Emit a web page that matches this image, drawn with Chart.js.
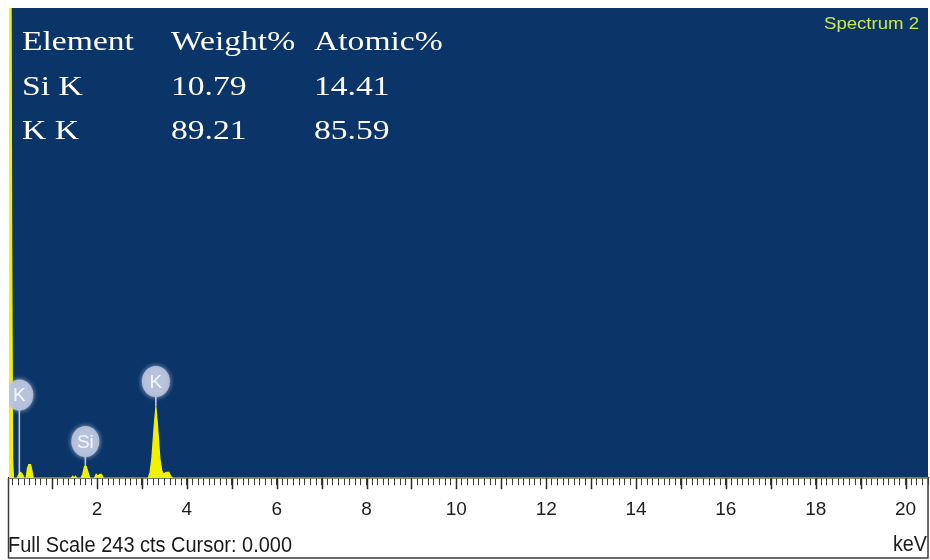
<!DOCTYPE html>
<html>
<head>
<meta charset="utf-8">
<script src="https://cdn.jsdelivr.net/npm/chart.js@4.4.1/dist/chart.umd.min.js"></script>
<style>
  html, body { margin: 0; padding: 0; background: #ffffff; }
  canvas { display: block; }
</style>
</head>
<body>
<canvas id="edx" width="930" height="560"></canvas>
<script>
// EDX spectrum: energy (keV) and counts
const keV = [0.04, 0.08, 0.10, 0.12, 0.14,
             0.22, 0.26, 0.30, 0.34, 0.38,
             0.42, 0.45, 0.48, 0.52, 0.55, 0.58,
             1.42, 1.46, 1.49, 1.52, 1.55,
             1.64, 1.68, 1.72, 1.76, 1.80, 1.84,
             1.94, 1.98, 2.02, 2.06, 2.10, 2.14,
             3.14, 3.18, 3.22, 3.27, 3.31, 3.35, 3.40, 3.44, 3.48, 3.54, 3.60, 3.64, 3.68,
             20.5];
const counts = [300, 300, 120, 10, 0,
                0, 2, 3, 2, 0,
                0, 5, 7, 7, 4, 0,
                0, 1, 0, 1, 0,
                0, 2, 6, 6, 3, 0,
                0, 2, 1, 2, 2, 0,
                0, 3, 10, 26, 37, 26, 10, 4, 2, 3, 3, 1, 0,
                0];
const fullScale = 243;

// energy axis
const keVTickLabels = [2, 4, 6, 8, 10, 12, 14, 16, 18, 20];
const keVMin = 0.04;
const keVMax = 20.5;

// identified lines
const lineNames = ['K', 'Si', 'K'];
const lineKeV = [0.27, 1.74, 3.31];

// quantification table
const tableHeader = ['Element', 'Weight%', 'Atomic%'];
const elementNames = ['Si K', 'K K'];
const weightPct = ['10.79', '89.21'];
const atomicPct = ['14.41', '85.59'];

const spectrumName = 'Spectrum 2';
const cursorValue = '0.000';

function drawStretched(ctx, text, x, y, font, sx, align) {
  ctx.save();
  ctx.font = font;
  ctx.textBaseline = 'alphabetic';
  ctx.textAlign = 'left';
  const w = ctx.measureText(text).width * sx;
  const x0 = align === 'right' ? x - w : x;
  ctx.translate(x0, y);
  ctx.scale(sx, 1);
  ctx.fillText(text, 0, 0);
  ctx.restore();
}

function drawFitted(ctx, text, x, y, font, width, align) {
  ctx.save();
  ctx.font = font;
  const sx = width / ctx.measureText(text).width;
  ctx.restore();
  drawStretched(ctx, text, x, y, font, sx, align);
}

const spectrumDecor = {
  id: 'spectrumDecor',
  beforeDraw(chart, args, opts) {
    const { ctx, chartArea: a } = chart;
    ctx.save();
    ctx.fillStyle = '#ffffff';
    ctx.fillRect(0, 0, chart.width, chart.height);
    ctx.fillStyle = opts.plotColor;
    ctx.fillRect(a.left, a.top, a.right - a.left, a.bottom - a.top);
    ctx.restore();
  },
  afterDatasetsDraw(chart, args, opts) {
    const { ctx, chartArea: a, scales: { x, y } } = chart;
    ctx.save();
    ctx.beginPath();
    ctx.rect(a.left, a.top, a.right - a.left, a.bottom - a.top);
    ctx.clip();
    lineNames.forEach((name, i) => {
      const e = lineKeV[i];
      // series height at this line energy
      let best = 0;
      keV.forEach((k, j) => { if (Math.abs(k - e) < Math.abs(keV[best] - e)) best = j; });
      const px = x.getPixelForValue(e);
      const peakY = y.getPixelForValue(counts[best]);
      const by = y.getPixelForValue(opts.bubbleAt[i]);
      const r = opts.bubbleRadius;
      // stem
      ctx.strokeStyle = 'rgba(220,226,240,0.85)';
      ctx.lineWidth = 1.6;
      ctx.beginPath();
      ctx.moveTo(px, by + r);
      ctx.lineTo(px, peakY);
      ctx.stroke();
      // bubble
      ctx.save();
      ctx.shadowColor = 'rgba(200,208,228,0.9)';
      ctx.shadowBlur = 5;
      ctx.fillStyle = 'rgba(185,196,222,0.9)';
      ctx.beginPath();
      ctx.ellipse(px, by, r, r + 1.5, 0, 0, Math.PI * 2);
      ctx.fill();
      ctx.restore();
      ctx.fillStyle = '#f6f7fb';
      ctx.font = '19px "Liberation Sans", Arial, sans-serif';
      ctx.textAlign = 'center';
      ctx.textBaseline = 'middle';
      ctx.fillText(name, px, by + 1);
    });
    ctx.restore();
  },
  afterDraw(chart, args, opts) {
    const { ctx, chartArea: a, scales: { x } } = chart;
    ctx.save();

    // longer marks at whole keV
    ctx.strokeStyle = '#2a2a2a';
    ctx.lineWidth = 1.5;
    for (let v = 1; v <= Math.floor(keVMax); v++) {
      const px = Math.round(x.getPixelForValue(v)) + 0.5;
      ctx.beginPath();
      ctx.moveTo(px, a.bottom);
      ctx.lineTo(px, a.bottom + 11);
      ctx.stroke();
    }

    // frame round the ruler strip
    ctx.strokeStyle = '#3c3c3c';
    ctx.lineWidth = 1.5;
    ctx.beginPath();
    ctx.moveTo(a.left - 0.5, a.bottom);
    ctx.lineTo(a.left - 0.5, chart.height - 2);
    ctx.lineTo(a.right, chart.height - 2);
    ctx.lineTo(a.right, a.bottom);
    ctx.stroke();

    // quantification table
    ctx.fillStyle = '#ffffff';
    const serif = '28px "Liberation Serif", "Times New Roman", serif';
    const cols = [22, 171, 314];
    const rows = [50, 95, 139];
    tableHeader.forEach((t, i) => drawStretched(ctx, t, cols[i], rows[0], serif, 1.2));
    elementNames.forEach((n, r) => {
      drawStretched(ctx, n, cols[0], rows[r + 1], serif, 1.2);
      drawStretched(ctx, weightPct[r], cols[1], rows[r + 1], serif, 1.2);
      drawStretched(ctx, atomicPct[r], cols[2], rows[r + 1], serif, 1.2);
    });

    // spectrum name
    ctx.fillStyle = '#cde84c';
    drawFitted(ctx, spectrumName, 919, 29, '17px "Liberation Sans", Arial, sans-serif', 95, 'right');

    // status line
    ctx.fillStyle = '#1a1a1a';
    drawFitted(ctx, 'Full Scale ' + fullScale + ' cts Cursor: ' + cursorValue, 8, 552,
               '22px "Liberation Sans", Arial, sans-serif', 284, 'left');
    drawFitted(ctx, 'keV', 927, 551, '22px "Liberation Sans", Arial, sans-serif', 34, 'right');
    ctx.restore();
  }
};

new Chart(document.getElementById('edx'), {
  type: 'line',
  data: {
    datasets: [{
      data: keV.map((k, i) => ({ x: k, y: counts[i] })),
      borderColor: '#f2f200',
      backgroundColor: '#f2f200',
      borderWidth: 1.2,
      pointRadius: 0,
      tension: 0,
      fill: 'origin'
    }]
  },
  options: {
    responsive: false,
    devicePixelRatio: 1,
    animation: false,
    events: [],
    layout: { padding: { left: 9, right: 2, top: 8, bottom: 26 } },
    plugins: {
      legend: { display: false },
      tooltip: { enabled: false },
      spectrumDecor: { plotColor: '#0b3468', bubbleRadius: 14, bubbleAt: [43, 19, 50] }
    },
    scales: {
      x: {
        type: 'linear',
        min: keVMin,
        max: keVMax,
        afterBuildTicks(scale) {
          const ticks = [];
          for (let i = 1; i * 0.125 <= keVMax; i++) ticks.push({ value: i * 0.125 });
          scale.ticks = ticks;
        },
        afterFit(scale) {
          // the ruler runs edge to edge; no room reserved for end labels
          scale.paddingLeft = 0;
          scale.paddingRight = 0;
        },
        grid: {
          display: true,
          drawOnChartArea: false,
          drawTicks: true,
          tickLength: 7,
          tickColor: '#3a3a3a',
          tickWidth: 1
        },
        border: { display: true, color: '#1e1e1e', width: 1.5 },
        ticks: {
          autoSkip: false,
          maxRotation: 0,
          minRotation: 0,
          padding: 13,
          color: '#1e1e1e',
          font: { family: '"Liberation Sans", Arial, sans-serif', size: 19 },
          callback: (v) => keVTickLabels.includes(v) ? String(v) : ''
        }
      },
      y: {
        display: false,
        min: 0,
        max: fullScale
      }
    }
  },
  plugins: [spectrumDecor]
});
</script>
</body>
</html>
